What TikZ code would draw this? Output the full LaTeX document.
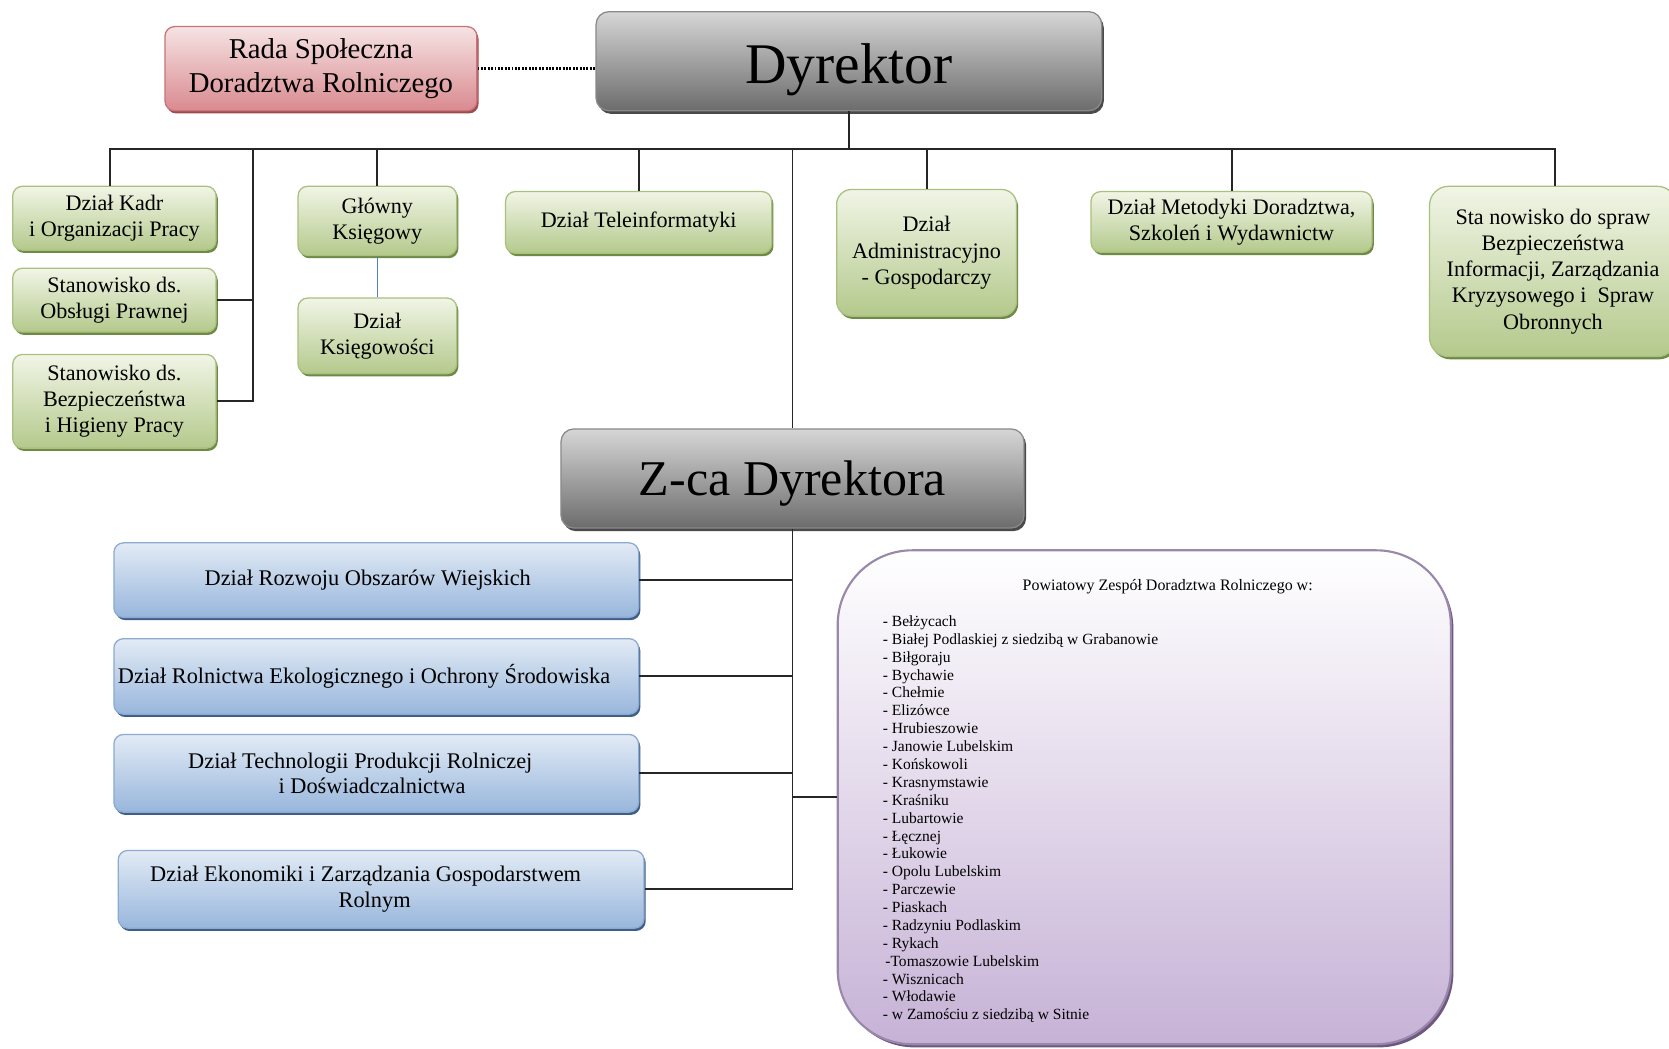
\documentclass[tikz,border=0pt]{standalone}
\usepackage{fontspec}
\setmainfont{Liberation Serif}
\usetikzlibrary{shadows}
\definecolor{glight}{HTML}{F1F5E6}
\definecolor{gdark}{HTML}{B4C98C}
\definecolor{gborder}{HTML}{A9C07F}
\definecolor{gshadow}{HTML}{6E8A45}
\definecolor{blight}{HTML}{E2EBF5}
\definecolor{bdark}{HTML}{98B6DC}
\definecolor{bborder}{HTML}{8DAAD0}
\definecolor{bshadow}{HTML}{3F5F86}
\definecolor{plight}{HTML}{F6E3E3}
\definecolor{pdark}{HTML}{D98A8F}
\definecolor{pborder}{HTML}{C97478}
\definecolor{pshadow}{HTML}{9E4A50}
\definecolor{ylight}{HTML}{D6D6D6}
\definecolor{ydark}{HTML}{6C6C6C}
\definecolor{yborder}{HTML}{8A8A8A}
\definecolor{yshadow}{HTML}{4A4A4A}
\definecolor{vlight}{HTML}{FFFFFF}
\definecolor{vdark}{HTML}{C6B2D6}
\definecolor{vborder}{HTML}{9A88AA}
\definecolor{vshadow}{HTML}{6E5780}
\definecolor{kline}{HTML}{4F81BD}
\tikzset{
  basebox/.style={rounded corners=4.5pt, inner sep=0pt, align=center, line width=0.6pt},
  gbox/.style={basebox, draw=gborder, top color=glight, bottom color=gdark,
    drop shadow={shadow xshift=0.8pt, shadow yshift=-1.3pt, fill=gshadow, opacity=1},
    font=\fontsize{10.4}{12.3}\selectfont},
  bbox/.style={basebox, draw=bborder, top color=blight, bottom color=bdark,
    drop shadow={shadow xshift=0.8pt, shadow yshift=-1.3pt, fill=bshadow, opacity=1},
    font=\fontsize{10.5}{12}\selectfont},
  pbox/.style={basebox, draw=pborder, top color=plight, bottom color=pdark,
    drop shadow={shadow xshift=0.8pt, shadow yshift=-1.3pt, fill=pshadow, opacity=1},
    font=\fontsize{13.5}{16}\selectfont},
  ybox/.style={basebox, rounded corners=6pt, draw=yborder, top color=ylight, bottom color=ydark,
    drop shadow={shadow xshift=1pt, shadow yshift=-1.5pt, fill=yshadow, opacity=1}},
  vbox/.style={basebox, rounded corners=35pt, draw=vborder, line width=1pt, top color=vlight, bottom color=vdark,
    drop shadow={shadow xshift=1.2pt, shadow yshift=-1.5pt, fill=vshadow, opacity=1}},
  conn/.style={draw=black!85, line width=0.9pt},
}
\begin{document}
\begin{tikzpicture}[x=0.5pt,y=-0.5pt]
\useasboundingbox (0,0) rectangle (1568,985);
\fill[white] (0,0) rectangle (1568,985);

% top level
\node[pbox, minimum width=146.5pt, minimum height=39.5pt] (rada) at (301.5,64.5)
  {Rada Społeczna\\Doradztwa Rolniczego};
\node[ybox, minimum width=237.5pt, minimum height=46.5pt, font=\fontsize{27}{30}\selectfont] (dyr) at (797.5,57.5) {\raisebox{-4pt}[\height][\depth]{Dyrektor}};

% green boxes
\node[gbox, minimum width=95.5pt, minimum height=30pt] (kadr) at (107.5,205) {Dział Kadr\\i Organizacji Pracy};
\node[gbox, minimum width=95.5pt, minimum height=30pt] (prawna) at (107.5,282) {Stanowisko ds.\\Obsługi Prawnej};
\node[gbox, minimum width=95.5pt, minimum height=44pt] (bhp) at (107.5,377) {Stanowisko ds.\\Bezpieczeństwa\\i Higieny Pracy};
\node[gbox, minimum width=74.5pt, minimum height=32.5pt] (glowny) at (354.5,207.5) {Główny\\Księgowy};
\node[gbox, minimum width=74.5pt, minimum height=35.5pt] (ksieg) at (354.5,315.5) {Dział\\Księgowości};
\node[gbox, minimum width=125pt, minimum height=29pt] (tele) at (600,209) {Dział Teleinformatyki};
\node[gbox, minimum width=84.5pt, minimum height=59.5pt, rounded corners=7pt] (admin) at (870.5,237.5) {Dział\\Administracyjno\\- Gospodarczy};
\node[gbox, minimum width=132pt, minimum height=28.5pt] (metod) at (1157,208.5) {Dział Metodyki Doradztwa,\\Szkoleń i Wydawnictw};
\node[gbox, minimum width=116pt, minimum height=80pt, rounded corners=9pt] (stan) at (1459,255)
  {Sta nowisko do spraw\\Bezpieczeństwa\\Informacji, Zarządzania\\Kryzysowego i~ Spraw\\Obronnych};

% deputy
\node[ybox, minimum width=217.5pt, minimum height=46.5pt, font=\fontsize{23.5}{26}\selectfont] (zca) at (744.5,449.5) {\raisebox{-2.5pt}[\height][\depth]{Z-ca Dyrektora}};

% blue boxes
\node[bbox, minimum width=246.5pt, minimum height=35pt] (rozw) at (353.5,545) {\hspace*{-8pt}Dział Rozwoju Obszarów Wiejskich};
\node[bbox, minimum width=246.5pt, minimum height=35.5pt] (rol) at (353.5,635.5) {\hspace*{-11.5pt}Dział Rolnictwa Ekologicznego i Ochrony Środowiska};
\node[bbox, minimum width=246.5pt, minimum height=36.5pt] (tech) at (353.5,726.5) {\hspace*{-15pt}Dział Technologii Produkcji Rolniczej\\\hspace*{-4pt}i Doświadczalnictwa};
\node[bbox, minimum width=247pt, minimum height=36.5pt] (ekon) at (358,835.5) {\hspace*{-14.5pt}Dział Ekonomiki i Zarządzania Gospodarstwem\\\hspace*{-6pt}Rolnym};

% powiatowy
\node[vbox, minimum width=288pt, minimum height=232pt] (pow) at (1075,749) {};
\node[inner sep=0pt, font=\fontsize{7.5}{9}\selectfont] (ptitle) at (1097,551) {Powiatowy Zespół Doradztwa Rolniczego w:};
\node[anchor=north west, inner sep=0pt, align=left, font=\fontsize{7.3}{8.4}\selectfont] (plist) at (829,578)
 {- Bełżycach\\
  - Białej Podlaskiej z siedzibą w Grabanowie\\
  - Biłgoraju\\
  - Bychawie\\
  - Chełmie\\
  - Elizówce\\
  - Hrubieszowie\\
  - Janowie Lubelskim\\
  - Końskowoli\\
  - Krasnymstawie\\
  - Kraśniku\\
  - Lubartowie\\
  - Łęcznej\\
  - Łukowie\\
  - Opolu Lubelskim\\
  - Parczewie\\
  - Piaskach\\
  - Radzyniu Podlaskim\\
  - Rykach\\
  \hspace*{1.2pt}-Tomaszowie Lubelskim\\
  - Wisznicach\\
  - Włodawie\\
  - w Zamościu z siedzibą w Sitnie};

% connectors
\coordinate (bus) at (0,140);
\coordinate (busL) at (103,140);
\coordinate (busR) at (1461,140);
\coordinate (lv) at (238,140);
\draw[line width=1.3pt, dash pattern=on 0.9pt off 0.7pt] (rada.east) -- (rada.east -| dyr.west);
\draw[conn] (dyr.south) -- (dyr.south |- bus);
\draw[conn] (busL |- kadr.north) -- (busL) -- (busR) -- (busR |- stan.north);
\draw[conn] (glowny.north) -- (glowny.north |- bus);
\draw[conn] (tele.north) -- (tele.north |- bus);
\draw[conn] (admin.north) -- (admin.north |- bus);
\draw[conn] (metod.north) -- (metod.north |- bus);
\draw[conn] (lv) -- (lv |- bhp.east) -- (bhp.east);
\draw[conn] (prawna.east) -- (prawna.east -| lv);
\draw[draw=kline, line width=0.7pt] (glowny.south) -- (ksieg.north);
\draw[conn] (zca.north |- bus) -- (zca.north);
\draw[conn] (zca.south) -- (zca.south |- ekon.east) -- (ekon.east);
\draw[conn] (rozw.east) -- (rozw.east -| zca.south);
\draw[conn] (rol.east) -- (rol.east -| zca.south);
\draw[conn] (tech.east) -- (tech.east -| zca.south);
\draw[conn] (pow.west -| zca.south) -- (pow.west);
\end{tikzpicture}
\end{document}
